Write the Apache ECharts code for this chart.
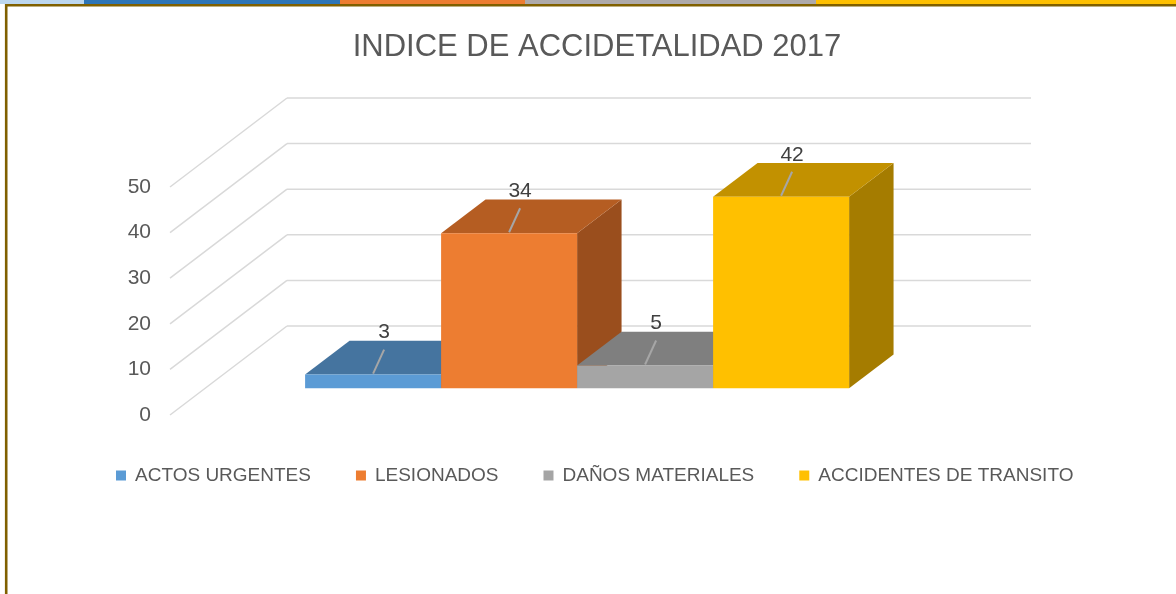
<!DOCTYPE html>
<html>
<head>
    <meta http-equiv="content-type" content="text/html; charset=utf-8">
    <script type="text/javascript" src="https://cdn.jsdelivr.net/npm/echarts@6/dist/echarts.min.js"></script>
    <style>
        html, body { margin: 0; padding: 0; background: #fff; }
        #main { width: 1176px; height: 594px; }
    </style>
</head>
<body>
<div id="main"></div>
<script>
    // datos del grafico
    var titleText = 'INDICE DE ACCIDETALIDAD 2017';
    var categories = ['ACTOS URGENTES', 'LESIONADOS', 'DAÑOS MATERIALES', 'ACCIDENTES DE TRANSITO'];
    var values = [3, 34, 5, 42];
    var yTicks = [0, 10, 20, 30, 40, 50];

    // colores: frente, arriba, lado
    var faceColors = [
        ['#5b9bd5', '#45749f', '#3a6590'],
        ['#ed7d31', '#b55d22', '#9a4e1d'],
        ['#a5a5a5', '#7f7f7f', '#6c6c6c'],
        ['#ffc000', '#c29100', '#a57c00']
    ];
    var stripColors = ['#bdd7ee', '#2e75b6', '#ed7d31', '#aeaaaa', '#ffc000'];
    var stripEdges = [0, 84, 340, 525, 816, 1176];

    var WALL = [117, -89];      // profundidad: borde frontal -> pared del fondo
    var BAR_FRONT = 0.3;        // donde empieza la barra en profundidad
    var BAR_DEPTH = 0.38;       // fondo de la barra
    var BAR_FRAC = 136 / 744;   // ancho de barra / ancho de la categoria
    var font = 'Liberation Sans';

    function renderGrid(params, api) {
        var cs = params.coordSys;
        var y = api.coord([0, api.value(1)])[1];
        var x0 = cs.x, x1 = cs.x + cs.width;
        var st = {stroke: '#d9d9d9', lineWidth: 1.5};
        return {
            type: 'group',
            children: [
                {type: 'line', shape: {x1: x0, y1: y, x2: x0 + WALL[0], y2: y + WALL[1]}, style: st},
                {type: 'line', shape: {x1: x0 + WALL[0], y1: y + WALL[1], x2: x1 + WALL[0], y2: y + WALL[1]}, style: st}
            ]
        };
    }

    function makeBar(i) {
        return function (params, api) {
            var v = api.value(1);
            var c0 = api.coord([0, 0]);
            var c1 = api.coord([0, v]);
            var w = api.size([1, 0])[0] * BAR_FRAC;
            var fx = WALL[0] * BAR_FRONT, fy = WALL[1] * BAR_FRONT;
            var dx = WALL[0] * BAR_DEPTH, dy = WALL[1] * BAR_DEPTH;
            var left = c0[0] - 2 * w + i * w + fx;
            var right = left + w;
            var bottom = c0[1] + fy;
            var top = c1[1] + fy;
            var cx = (left + right) / 2;
            var col = faceColors[i];
            return {
                type: 'group',
                children: [
                    {type: 'polygon', shape: {points: [[right, bottom], [right + dx, bottom + dy], [right + dx, top + dy], [right, top]]}, style: {fill: col[2]}},
                    {type: 'polygon', shape: {points: [[left, top], [right, top], [right + dx, top + dy], [left + dx, top + dy]]}, style: {fill: col[1]}},
                    {type: 'rect', shape: {x: left, y: top, width: w, height: bottom - top}, style: {fill: col[0]}},
                    {type: 'line', shape: {x1: cx, y1: top - 1, x2: cx + 11, y2: top - 25}, style: {stroke: '#a6a6a6', lineWidth: 2}},
                    {type: 'text', style: {text: String(v), x: cx + 11, y: top - 42, align: 'center', verticalAlign: 'middle',
                        fill: '#404040', fontSize: 21, fontFamily: font}}
                ]
            };
        };
    }

    var graphics = [];
    for (var k = 0; k < stripColors.length; k++) {
        graphics.push({type: 'rect', shape: {x: stripEdges[k], y: 0, width: stripEdges[k + 1] - stripEdges[k], height: 4},
            style: {fill: stripColors[k]}, silent: true});
    }
    graphics.push({type: 'rect', shape: {x: 6.2, y: 5.3, width: 1300, height: 700},
        style: {fill: null, stroke: '#806000', lineWidth: 2.6}, silent: true});

    var series = [{
        type: 'custom',
        name: 'grid',
        renderItem: renderGrid,
        data: yTicks.map(function (t) { return [0, t]; }),
        encode: {x: 0, y: 1},
        silent: true,
        z: 1
    }];
    categories.forEach(function (name, i) {
        series.push({
            type: 'custom',
            name: name,
            renderItem: makeBar(i),
            data: [[0, values[i]]],
            encode: {x: 0, y: 1},
            itemStyle: {color: faceColors[i][0]},
            z: 3
        });
    });

    var option = {
        animation: false,
        title: {
            text: titleText,
            left: 592,
            top: 27,
            textAlign: 'center',
            textStyle: {fontSize: 31, fontWeight: 'normal', color: '#595959', fontFamily: font}
        },
        legend: {
            data: categories,
            left: 116,
            top: 466,
            padding: 0,
            icon: 'rect',
            itemWidth: 10,
            itemHeight: 10,
            itemGap: 45,
            textStyle: {fontSize: 19, color: '#595959', fontFamily: font, padding: [0, 0, 0, 4]}
        },
        grid: {left: 170, top: 187, width: 744, height: 228, outerBoundsMode: 'none'},
        xAxis: {type: 'category', data: ['2017'], show: false},
        yAxis: {
            type: 'value',
            min: 0,
            max: 50,
            interval: 10,
            axisLine: {show: false},
            axisTick: {show: false},
            splitLine: {show: false},
            axisLabel: {margin: 19, fontSize: 21, color: '#595959', fontFamily: font}
        },
        graphic: graphics,
        series: series
    };

    var myChart = echarts.init(document.getElementById('main'));
    myChart.setOption(option);
</script>
</body>
</html>
